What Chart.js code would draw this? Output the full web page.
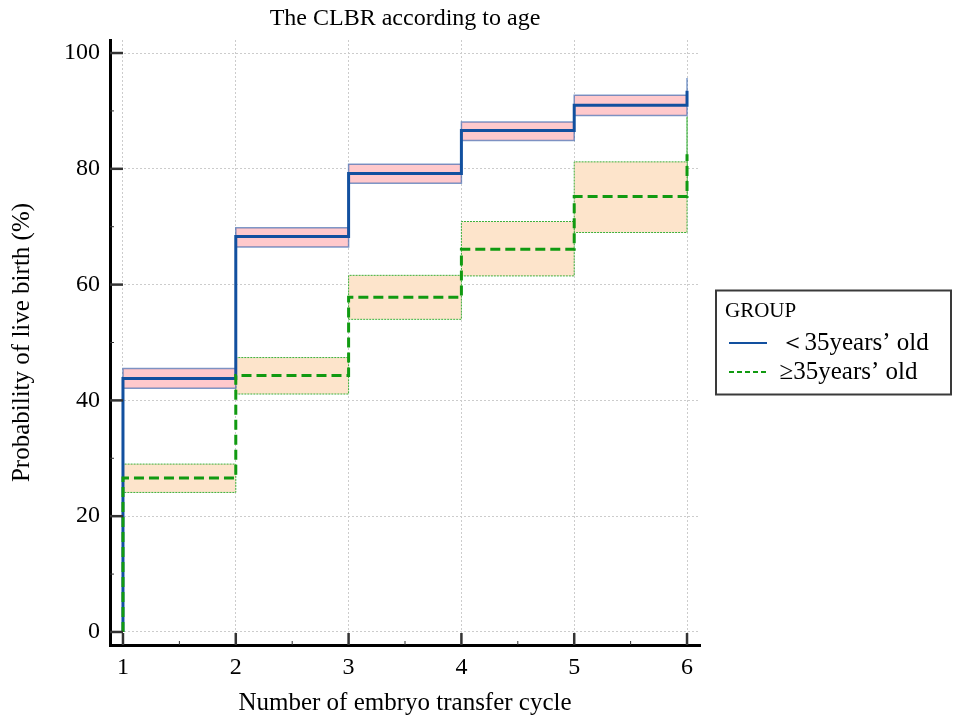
<!DOCTYPE html>
<html>
<head>
<meta charset="utf-8">
<script src="https://cdn.jsdelivr.net/npm/chart.js@4.4.1/dist/chart.umd.min.js"></script>
<style>
  html, body { margin: 0; padding: 0; background: #fff; }
  #wrap { width: 953px; height: 719px; }
</style>
</head>
<body>
<div id="wrap"><canvas id="myChart" width="953" height="719"></canvas></div>
<script>
// Data
const cycles = [1, 2, 3, 4, 5, 6];
const startCLBR = 0;
const under35 = [43.8, 68.3, 79.2, 86.6, 91.0, 93.5];
const under35Lo = [42.1, 66.5, 77.5, 84.9, 89.2, 91.5];
const under35Hi = [45.5, 69.8, 80.8, 88.1, 92.7, 95.7];
const over35 = [26.6, 44.3, 57.8, 66.1, 75.2, 82.5];
const over35Lo = [24.1, 41.1, 54.0, 61.5, 69.0, 75.2];
const over35Hi = [29.0, 47.4, 61.6, 70.9, 81.2, 89.0];
const groupLabels = ['＜35years’ old', '≥35years’ old'];

const FONT = "'Liberation Serif', 'Times New Roman', serif";
Chart.defaults.font.family = FONT;
Chart.defaults.color = '#000';

// step curve: starts at 0 on cycle 1, then holds each value until the next cycle
function stepPoints(vals) {
    const pts = [{ x: cycles[0], y: startCLBR }];
    cycles.forEach((c, i) => pts.push({ x: c, y: vals[i] }));
    return pts;
}

// confidence box for one cycle interval (last one has no width)
function boxPoints(lo, hi, i) {
    const a = cycles[i];
    const b = cycles[Math.min(i + 1, cycles.length - 1)];
    return [
        { x: a, y: lo[i] }, { x: a, y: hi[i] },
        { x: b, y: hi[i] }, { x: b, y: lo[i] },
        { x: a, y: lo[i] }
    ];
}

const datasets = [{
    label: groupLabels[0],
    data: stepPoints(under35),
    stepped: 'before',
    borderColor: '#12509f',
    borderWidth: 3,
    pointRadius: 0,
    pointStyle: 'line',
    fill: false,
    order: 1
}, {
    label: groupLabels[1],
    data: stepPoints(over35),
    stepped: 'before',
    borderColor: '#119a11',
    borderWidth: 3,
    borderDash: [10, 5],
    pointRadius: 0,
    pointStyle: 'line',
    fill: false,
    order: 0
}];

cycles.forEach((c, i) => {
    datasets.push({
        label: 'ci1',
        data: boxPoints(under35Lo, under35Hi, i),
        borderColor: 'rgba(40, 90, 170, 0.6)',
        borderWidth: 1.5,
        backgroundColor: '#ffc9cc',
        pointRadius: 0,
        fill: 'shape',
        order: 5
    });
    datasets.push({
        label: 'ci2',
        data: boxPoints(over35Lo, over35Hi, i),
        borderColor: 'rgba(40, 170, 40, 0.9)',
        borderWidth: 1,
        borderDash: [2, 1],
        backgroundColor: '#fde4cb',
        pointRadius: 0,
        fill: 'shape',
        order: 6
    });
});

// size the right side so the plot ends where the reference does
const mctx = document.createElement('canvas').getContext('2d');
mctx.font = '25px ' + FONT;
const legendTextW = Math.max(...groupLabels.map(t => mctx.measureText(t).width));
const legendW = 4 + 38 + 12.5 + legendTextW + 10;
const padRight = Math.max(0, 953 - 700 - 25 - legendW);

// ticks pointing into the plot, major + minor
const innerTicks = {
    id: 'innerTicks',
    afterDraw(chart) {
        const { ctx, chartArea: a, scales: { x, y } } = chart;
        ctx.save();
        ctx.strokeStyle = '#333';
        const seg = (x1, y1, x2, y2, w) => {
            ctx.lineWidth = w;
            ctx.beginPath();
            ctx.moveTo(x1, y1);
            ctx.lineTo(x2, y2);
            ctx.stroke();
        };
        const yv = y.ticks.map(t => t.value);
        yv.forEach((v, i) => {
            const p = y.getPixelForValue(v);
            seg(a.left, p, a.left + 13, p, 2.5);
            if (i < yv.length - 1) {
                const m = y.getPixelForValue((v + yv[i + 1]) / 2);
                seg(a.left, m, a.left + 4, m, 1);
            }
        });
        const xv = x.ticks.map(t => t.value);
        xv.forEach((v, i) => {
            const p = x.getPixelForValue(v);
            seg(p, a.bottom, p, a.bottom - 12, 2.5);
            if (i < xv.length - 1) {
                const m = x.getPixelForValue((v + xv[i + 1]) / 2);
                seg(m, a.bottom, m, a.bottom - 4, 1);
            }
        });
        ctx.restore();
    }
};

// frame round the legend
const legendFrame = {
    id: 'legendFrame',
    afterDraw(chart) {
        const lg = chart.legend;
        if (!lg) return;
        const ctx = chart.ctx;
        const mid = (lg.top + lg.bottom) / 2;
        ctx.save();
        ctx.strokeStyle = '#3a3a3a';
        ctx.lineWidth = 2;
        ctx.strokeRect(lg.left - 9, mid - 52, chart.width - 2 - (lg.left - 9), 104);
        ctx.restore();
    }
};

const defaultLabels = Chart.defaults.plugins.legend.labels.generateLabels;

const myChart = new Chart(document.getElementById('myChart'), {
    type: 'line',
    data: { datasets: datasets },
    options: {
        responsive: false,
        animation: false,
        layout: { padding: { left: 0, right: padRight, top: 0, bottom: 0 } },
        scales: {
            x: {
                type: 'linear',
                min: 0.885,
                max: 6.115,
                ticks: { stepSize: 1, includeBounds: false, padding: 8.2, font: { size: 24 }, color: '#000' },
                grid: { color: '#cccccc', drawTicks: false },
                border: { display: true, color: '#000', width: 3, dash: [2, 2] },
                title: {
                    display: true,
                    text: 'Number of embryo transfer cycle',
                    font: { size: 25 },
                    color: '#000',
                    padding: { top: -1.9, bottom: 0.7 }
                }
            },
            y: {
                type: 'linear',
                min: -2.25,
                max: 102.25,
                ticks: { stepSize: 20, includeBounds: false, padding: 10, font: { size: 24 }, color: '#000' },
                grid: { color: '#cccccc', drawTicks: false },
                border: { display: true, color: '#000', width: 3, dash: [2, 2] },
                title: {
                    display: true,
                    text: 'Probability of live birth (%)',
                    font: { size: 25 },
                    color: '#000',
                    padding: { top: 7, bottom: 17 }
                }
            },
            yR: {
                type: 'linear',
                position: 'right',
                display: true,
                ticks: { display: false },
                grid: { display: false, drawTicks: false },
                border: { display: false },
                afterFit: s => { s.width = 25; }
            }
        },
        plugins: {
            title: {
                display: true,
                text: 'The CLBR according to age',
                font: { size: 24, weight: 'normal' },
                color: '#000',
                fullSize: false,
                padding: { top: 4.2, bottom: 7 }
            },
            legend: {
                position: 'right',
                align: 'center',
                fullSize: false,
                maxWidth: 300,
                title: {
                    display: true,
                    text: 'GROUP',
                    position: 'start',
                    font: { size: 21 },
                    color: '#000',
                    padding: { top: 5, bottom: 0 }
                },
                labels: {
                    usePointStyle: true,
                    pointStyleWidth: 38,
                    padding: 4,
                    color: '#000',
                    font: { size: 25 },
                    sort: (a, b) => a.datasetIndex - b.datasetIndex,
                    generateLabels: chart => defaultLabels(chart)
                        .filter(l => l.datasetIndex < 2)
                        .map(l => Object.assign({}, l, {
                            lineWidth: 2,
                            lineDash: l.datasetIndex === 1 ? [5, 3] : []
                        }))
                },
                onClick: () => {}
            },
            tooltip: { enabled: false }
        }
    },
    plugins: [innerTicks, legendFrame]
});

// small correction if the measured legend differs from Chart.js' own fit
const drift = myChart.chartArea.right - 700;
if (Math.abs(drift) > 0.5) {
    myChart.options.layout.padding.right = Math.max(0, padRight - drift);
    myChart.update();
}
</script>
</body>
</html>
